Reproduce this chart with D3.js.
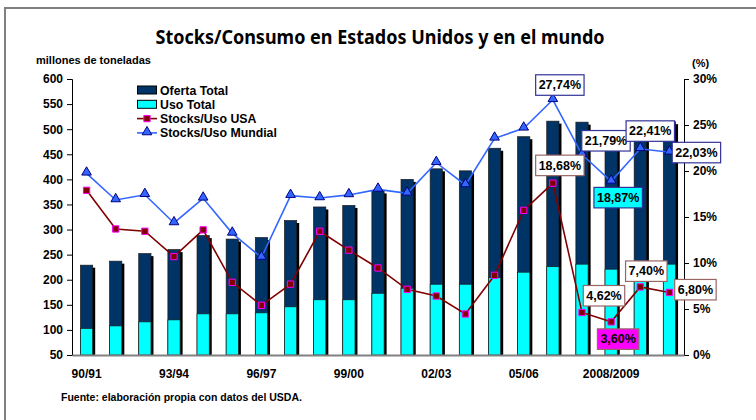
<!DOCTYPE html>
<html>
<head>
<meta charset="utf-8">
<script src="https://cdn.jsdelivr.net/npm/d3@7"></script>
<style>
  body { margin: 0; background: #fff; }
  text { font-family: "Liberation Sans", Arial, sans-serif; font-weight: bold; fill: #000; }
</style>
</head>
<body>
<script>
const width = 756;
const height = 420;

// campañas
const campanias = ["90/91", "91/92", "92/93", "93/94", "94/95", "95/96", "96/97", "97/98", "98/99", "99/00",
	"00/01", "01/02", "02/03", "03/04", "04/05", "05/06", "06/07", "07/08", "2008/2009", "09/10", "10/11"];
const etiquetasX = ["90/91", "93/94", "96/97", "99/00", "02/03", "05/06", "2008/2009"];

// millones de toneladas
const ofertaTotal = [229, 237, 252, 260, 288, 281, 284, 318, 345, 348, 377, 400, 421, 417, 462, 485, 516, 514, 495, 508, 515];
const usoTotal = [103, 108, 116, 120, 132, 132, 134, 146, 160, 160, 173, 183, 191, 191, 204, 215, 226, 231, 221, 228, 231];

// stocks / uso (%)
const stocksUsoUSA = [17.9, 13.7, 13.45, 10.7, 13.6, 7.9, 5.4, 7.7, 13.45, 11.4, 9.46, 7.14, 6.41, 4.46, 8.66, 15.72, 18.68, 4.62, 3.60, 7.40, 6.80];
const stocksUsoMundial = [19.75, 16.85, 17.42, 14.35, 17.03, 13.22, 10.6, 17.32, 17.07, 17.4, 18.0, 17.57, 20.9, 18.48, 23.55, 24.64, 27.74, 21.79, 18.87, 22.41, 22.03];

const ticksIzq = [50, 100, 150, 200, 250, 300, 350, 400, 450, 500, 550, 600];
const ticksDer = [0, 5, 10, 15, 20, 25, 30];

// etiquetas de valores destacados: serie, índice, desplazamiento, relleno
const etiquetas = [
	{ serie: "mundial", i: 16, dx: 7, dy: -15, fill: "#fff" },
	{ serie: "mundial", i: 17, dx: 24, dy: -14, fill: "#fff" },
	{ serie: "mundial", i: 18, dx: 7, dy: 16, fill: "#00ffff" },
	{ serie: "mundial", i: 19, dx: 10, dy: -18, fill: "#fff" },
	{ serie: "mundial", i: 20, dx: 27, dy: 0, fill: "#fff" },
	{ serie: "usa", i: 16, dx: 7, dy: -18, fill: "#fff" },
	{ serie: "usa", i: 17, dx: 22, dy: -17, fill: "#fff" },
	{ serie: "usa", i: 18, dx: 7, dy: 17, fill: "#ff00ff" },
	{ serie: "usa", i: 19, dx: 6, dy: -16, fill: "#fff" },
	{ serie: "usa", i: 20, dx: 26, dy: -3, fill: "#fff" }
];

const margin = { left: 72, right: 684, top: 79, bottom: 355 };

const svg = d3.select("body").append("svg")
	.attr("width", width)
	.attr("height", height);

// marco
svg.append("path")
	.attr("d", `M5,${height} L5,8 L${width},8`)
	.attr("fill", "none")
	.attr("stroke", "#808080")
	.attr("stroke-width", 2);

// título
svg.append("text")
	.attr("x", 380).attr("y", 44)
	.attr("text-anchor", "middle")
	.attr("textLength", 449)
	.attr("lengthAdjust", "spacingAndGlyphs")
	.style("font-size", "19.5px")
	.style("font-family", "'Noto Sans', 'DejaVu Sans', sans-serif")
	.text("Stocks/Consumo en Estados Unidos y en el mundo");

svg.append("text")
	.attr("x", 36).attr("y", 64)
	.style("font-size", "11px")
	.text("millones de toneladas");

svg.append("text")
	.attr("x", 692).attr("y", 67)
	.style("font-size", "11px")
	.text("(%)");

const x = d3.scaleBand()
	.domain(campanias)
	.range([margin.left, margin.right])
	.paddingInner(0.58)
	.paddingOuter(0.29);

const yIzq = d3.scaleLinear().domain([50, 600]).range([margin.bottom, margin.top]);
const yDer = d3.scaleLinear().domain([0, 30]).range([margin.bottom, margin.top]);

// barras
const barras = svg.append("g");
const bw = x.bandwidth();

barras.selectAll(".sombra")
	.data(ofertaTotal)
	.enter()
	.append("rect")
	.attr("x", (d, i) => x(campanias[i]) + 2.5)
	.attr("y", d => yIzq(d) + 2.5)
	.attr("width", bw)
	.attr("height", d => margin.bottom - yIzq(d) - 2.5)
	.attr("fill", "#000");

barras.selectAll(".oferta")
	.data(ofertaTotal)
	.enter()
	.append("rect")
	.attr("x", (d, i) => x(campanias[i]))
	.attr("y", d => yIzq(d))
	.attr("width", bw)
	.attr("height", d => margin.bottom - yIzq(d))
	.attr("fill", "#003366")
	.attr("stroke", "#1a1a1a")
	.attr("stroke-width", 0.7);

barras.selectAll(".uso")
	.data(usoTotal)
	.enter()
	.append("rect")
	.attr("x", (d, i) => x(campanias[i]))
	.attr("y", d => yIzq(d))
	.attr("width", bw)
	.attr("height", d => margin.bottom - yIzq(d))
	.attr("fill", "#00ffff")
	.attr("stroke", "#1a1a1a")
	.attr("stroke-width", 0.7);

// ejes
const ejeIzq = svg.append("g")
	.attr("transform", `translate(${margin.left},0)`)
	.call(d3.axisLeft(yIzq).tickValues(ticksIzq).tickSize(5).tickPadding(4));

const ejeDer = svg.append("g")
	.attr("transform", `translate(${margin.right},0)`)
	.call(d3.axisRight(yDer).tickValues(ticksDer).tickSize(5).tickPadding(4).tickFormat(d => d + "%"));

const ejeX = svg.append("g")
	.attr("transform", `translate(0,${margin.bottom})`)
	.call(d3.axisBottom(x).tickValues(etiquetasX).tickSize(0).tickPadding(14));

[ejeIzq, ejeDer, ejeX].forEach(g => {
	g.selectAll("text").style("font-size", "12px").style("font-family", "'Liberation Sans', Arial, sans-serif").style("font-weight", "bold");
	g.selectAll("path, line").attr("stroke", "#000");
});
ejeX.select(".domain").attr("stroke", "#808080").attr("stroke-width", 2);

// líneas
const linea = d3.line()
	.x((d, i) => x(campanias[i]) + bw / 2)
	.y(d => yDer(d));

svg.append("path")
	.datum(stocksUsoUSA)
	.attr("d", linea)
	.attr("fill", "none")
	.attr("stroke", "#800000")
	.attr("stroke-width", 1.6);

svg.append("path")
	.datum(stocksUsoMundial)
	.attr("d", linea)
	.attr("fill", "none")
	.attr("stroke", "#3366ff")
	.attr("stroke-width", 1.6);

const cuadrado = d3.symbol().type(d3.symbolSquare).size(40);
const triangulo = d3.symbol().type(d3.symbolTriangle).size(40);

svg.append("g").selectAll("path")
	.data(stocksUsoUSA)
	.enter()
	.append("path")
	.attr("d", cuadrado)
	.attr("transform", (d, i) => `translate(${x(campanias[i]) + bw / 2},${yDer(d)})`)
	.attr("fill", "#800000")
	.attr("stroke", "#ff00ff")
	.attr("stroke-width", 1);

svg.append("g").selectAll("path")
	.data(stocksUsoMundial)
	.enter()
	.append("path")
	.attr("d", triangulo)
	.attr("transform", (d, i) => `translate(${x(campanias[i]) + bw / 2},${yDer(d) - 1})`)
	.attr("fill", "#3366ff")
	.attr("stroke", "#000080")
	.attr("stroke-width", 1);

// etiquetas de datos
const fmt = v => v.toFixed(2).replace(".", ",") + "%";
etiquetas.forEach(e => {
	const valores = e.serie === "usa" ? stocksUsoUSA : stocksUsoMundial;
	const cx = x(campanias[e.i]) + bw / 2 + e.dx;
	const cy = yDer(valores[e.i]) + e.dy;
	const g = svg.append("g");
	const t = g.append("text")
		.attr("x", cx).attr("y", cy + 4.5)
		.attr("text-anchor", "middle")
		.style("font-size", "12.5px")
		.text(fmt(valores[e.i]));
	const w = t.node().getComputedTextLength() + 6;
	g.insert("rect", "text")
		.attr("x", cx - w / 2).attr("y", cy - 10)
		.attr("width", w).attr("height", 20.5)
		.attr("fill", e.fill)
		.attr("stroke", e.serie === "usa" ? "#996666" : "#333399")
		.attr("stroke-width", 1.2);
});

// leyenda
const leyenda = svg.append("g");
const filas = ["Oferta Total", "Uso Total", "Stocks/Uso USA", "Stocks/Uso Mundial"];
leyenda.selectAll("text")
	.data(filas)
	.enter()
	.append("text")
	.attr("x", 160)
	.attr("y", (d, i) => 94.5 + i * 14.3)
	.style("font-size", "12.3px")
	.text(d => d);

leyenda.append("rect").attr("x", 137.5).attr("y", 86).attr("width", 19).attr("height", 8)
	.attr("fill", "#003366").attr("stroke", "#000");
leyenda.append("rect").attr("x", 137.5).attr("y", 100.3).attr("width", 19).attr("height", 8)
	.attr("fill", "#00ffff").attr("stroke", "#000");
leyenda.append("line").attr("x1", 137).attr("x2", 157).attr("y1", 118.6).attr("y2", 118.6)
	.attr("stroke", "#800000").attr("stroke-width", 1.6);
leyenda.append("path").attr("d", cuadrado).attr("transform", "translate(147,118.6)")
	.attr("fill", "#800000").attr("stroke", "#ff00ff");
leyenda.append("line").attr("x1", 137).attr("x2", 157).attr("y1", 132.9).attr("y2", 132.9)
	.attr("stroke", "#3366ff").attr("stroke-width", 1.6);
leyenda.append("path").attr("d", triangulo).attr("transform", "translate(147,132)")
	.attr("fill", "#3366ff").attr("stroke", "#000080");

// fuente
svg.append("text")
	.attr("x", 61).attr("y", 401)
	.style("font-size", "10.5px")
	.text("Fuente: elaboración propia con datos del USDA.");
</script>
</body>
</html>
